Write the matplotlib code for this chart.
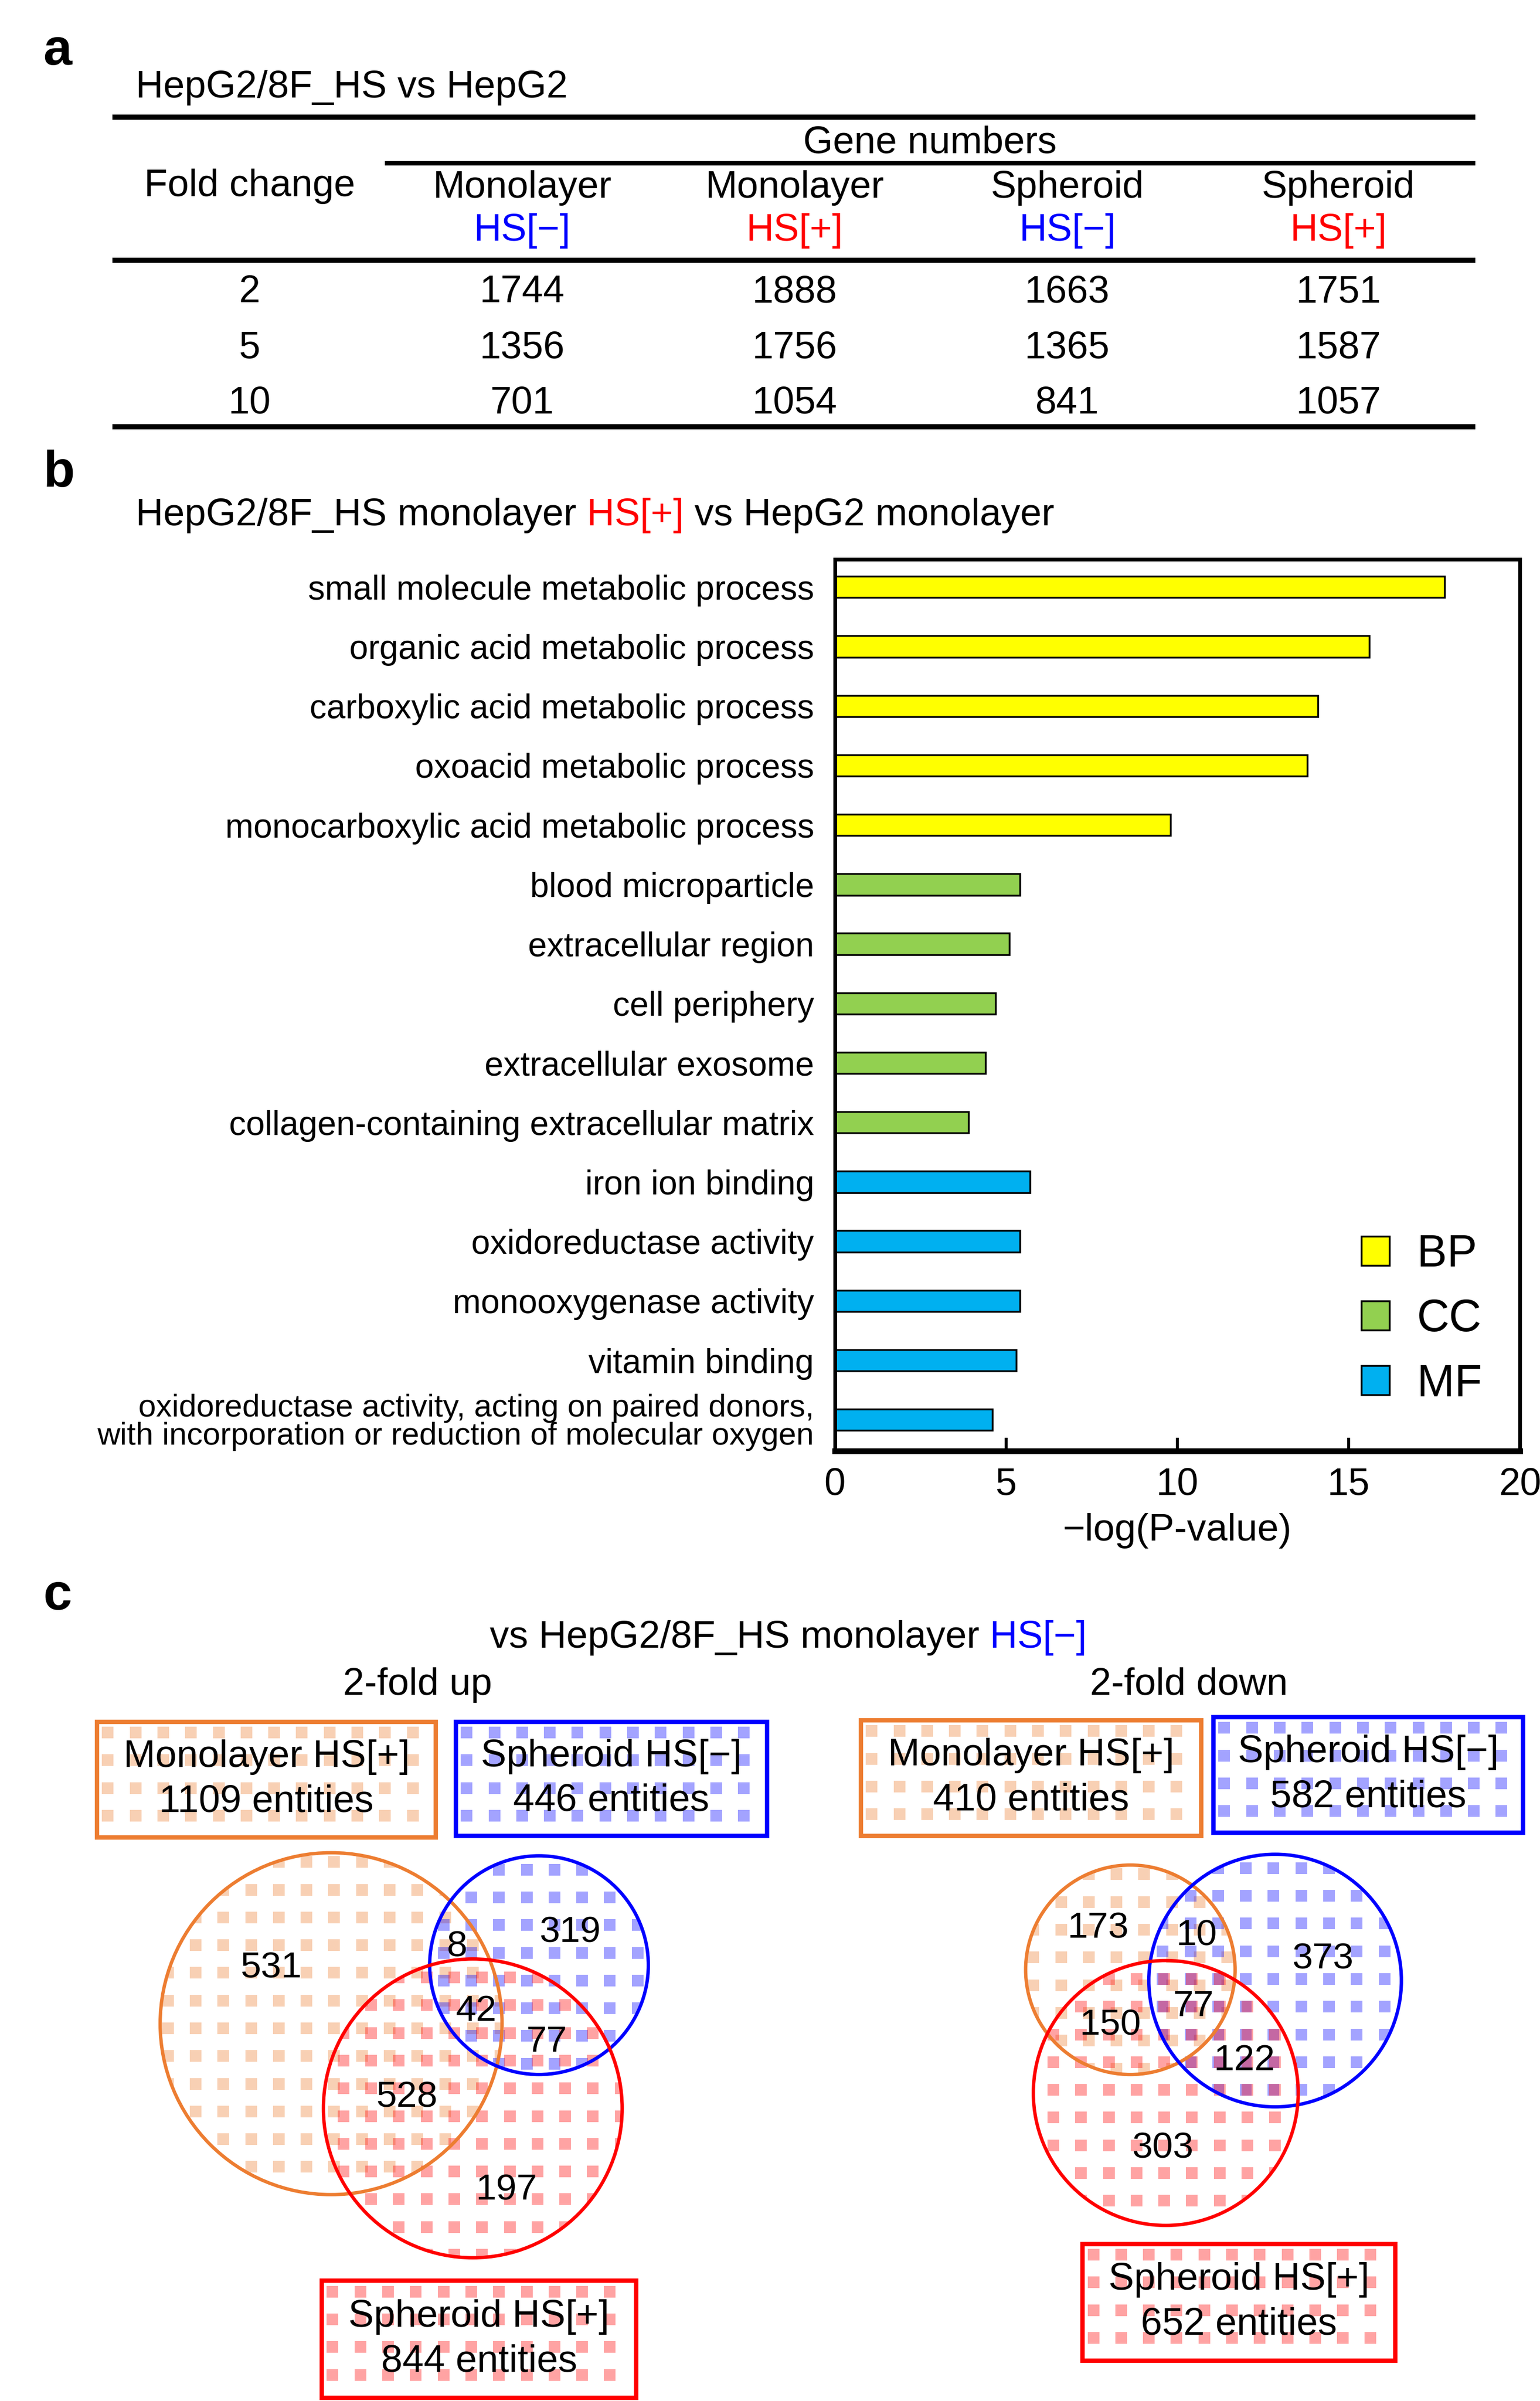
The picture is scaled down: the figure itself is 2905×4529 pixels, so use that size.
import matplotlib.pyplot as plt
import numpy as np
from matplotlib.patches import Circle, Rectangle, Patch

plt.rcParams['font.family'] = ['Liberation Sans', 'DejaVu Sans']

MINUS = '\u2212'

# ---- panel a: gene numbers table ----
fold_change = ['2', '5', '10']
col_names = ['Monolayer', 'Monolayer', 'Spheroid', 'Spheroid']
col_hs = ['HS[' + MINUS + ']', 'HS[+]', 'HS[' + MINUS + ']', 'HS[+]']
col_hs_colors = ['#0000FF', '#FF0000', '#0000FF', '#FF0000']
mono_neg = [1744, 1356, 701]
mono_pos = [1888, 1756, 1054]
sph_neg = [1663, 1365, 841]
sph_pos = [1751, 1587, 1057]

# ---- panel b: GO enrichment ----
go_terms = ['small molecule metabolic process',
            'organic acid metabolic process',
            'carboxylic acid metabolic process',
            'oxoacid metabolic process',
            'monocarboxylic acid metabolic process',
            'blood microparticle',
            'extracellular region',
            'cell periphery',
            'extracellular exosome',
            'collagen-containing extracellular matrix',
            'iron ion binding',
            'oxidoreductase activity',
            'monooxygenase activity',
            'vitamin binding',
            'oxidoreductase activity, acting on paired donors,\n'
            'with incorporation or reduction of molecular oxygen']
go_logp = [17.8, 15.6, 14.1, 13.8, 9.8,
           5.4, 5.1, 4.7, 4.4, 3.9,
           5.7, 5.4, 5.4, 5.3, 4.6]
go_cat = ['BP', 'BP', 'BP', 'BP', 'BP',
          'CC', 'CC', 'CC', 'CC', 'CC',
          'MF', 'MF', 'MF', 'MF', 'MF']
cat_names = ['BP', 'CC', 'MF']
cat_colors = {'BP': '#FFFF00', 'CC': '#92D050', 'MF': '#00B0F0'}

# ---- panel c: venn diagrams ----
set_names = ['Monolayer HS[+]', 'Spheroid HS[' + MINUS + ']', 'Spheroid HS[+]']
set_colors = ['#ED7D31', '#0000FF', '#FF0000']
# region order: A only, A&B, B only, A&B&C, B&C, A&C, C only
up_totals = [1109, 446, 844]
up_regions = [531, 8, 319, 42, 77, 528, 197]
down_totals = [410, 582, 652]
down_regions = [173, 10, 373, 77, 122, 150, 303]

W, H = 1000.0, 1559.0
fig = plt.figure(figsize=(29.05, 45.29), dpi=100)
ax0 = fig.add_axes([0, 0, 1, 1])
ax0.set_xlim(0, W)
ax0.set_ylim(H, 0)
ax0.axis('off')

FS = 52


def rainbow(x, y, parts, size=FS):
    t = ax0.text(x, y, parts[0][0], color=parts[0][1], fontsize=size,
                 va='baseline', ha='left')
    for s, c in parts[1:]:
        t = ax0.annotate(s, xy=(1, 0), xycoords=t, va='bottom', ha='left',
                         color=c, fontsize=size)


# ================= panel a =================
ax0.text(28, 42, 'a', fontsize=70, fontweight='bold', va='baseline')
ax0.text(88, 57, 'HepG2/8F_HS vs HepG2', fontsize=FS, va='center')
ax0.plot([73, 958], [76, 76], color='black', lw=7, solid_capstyle='butt')
ax0.text(604, 93, 'Gene numbers', fontsize=FS, va='center', ha='center')
ax0.plot([250, 958], [106, 106], color='black', lw=6, solid_capstyle='butt')
ax0.text(162, 121, 'Fold change', fontsize=FS, va='center', ha='center')
col_x = [339, 516, 693, 869]
for cx, nm, hs, hc in zip(col_x, col_names, col_hs, col_hs_colors):
    ax0.text(cx, 122, nm, fontsize=FS, va='center', ha='center')
    ax0.text(cx, 150, hs, fontsize=FS, va='center', ha='center', color=hc)
ax0.plot([73, 958], [169, 169], color='black', lw=7, solid_capstyle='butt')
row_y = [190, 226, 262]
for i, ry in enumerate(row_y):
    ax0.text(162, ry, fold_change[i], fontsize=FS, va='center', ha='center')
    for cx, vals in zip(col_x, [mono_neg, mono_pos, sph_neg, sph_pos]):
        ax0.text(cx, ry, str(vals[i]), fontsize=FS, va='center', ha='center')
ax0.plot([73, 958], [277, 277], color='black', lw=7, solid_capstyle='butt')

# ================= panel b =================
ax0.text(28, 316, 'b', fontsize=70, fontweight='bold', va='baseline')
rainbow(88, 341, [('HepG2/8F_HS monolayer', 'black'), (' HS[+]', '#FF0000'),
                  (' vs HepG2 monolayer', 'black')])

axb = fig.add_axes([542 / W, 1 - 942 / H, 445 / W, 579 / H])
ypos = np.arange(len(go_terms))
axb.barh(ypos, go_logp, height=0.36, color=[cat_colors[c] for c in go_cat],
         edgecolor='black', linewidth=2.5)
axb.set_ylim(14.52, -0.47)
axb.set_xlim(0, 20)
axb.set_yticks(ypos)
axb.set_yticklabels(go_terms, fontsize=46)
ylabels = axb.get_yticklabels()
ylabels[-1].set_fontsize(43)
ylabels[-1].set_linespacing(0.95)
axb.tick_params(axis='y', length=0, pad=28)
axb.set_xticks([0, 5, 10, 15, 20])
axb.tick_params(axis='x', direction='in', length=18, width=4, labelsize=52, pad=22)
for sp in ['left', 'top', 'right']:
    axb.spines[sp].set_linewidth(5)
axb.spines['bottom'].set_linewidth(8)
axb.set_xlabel(MINUS + 'log(P-value)', fontsize=52, labelpad=14)
handles = [Patch(facecolor=cat_colors[c], edgecolor='black', lw=2.5, label=c)
           for c in cat_names]
axb.legend(handles=handles, loc='upper left', bbox_to_anchor=(884 / W, 1 - 801 / H),
           bbox_transform=fig.transFigure, frameon=False, fontsize=61,
           handlelength=0.62, handleheight=0.62, handletextpad=0.62,
           labelspacing=0.5, borderpad=0, borderaxespad=0)

# ================= panel c =================
ax0.text(28, 1045, 'c', fontsize=70, fontweight='bold', va='baseline')
rainbow(318, 1070, [('vs HepG2/8F_HS monolayer', 'black'),
                    (' HS[' + MINUS + ']', '#0000FF')])
ax0.text(271, 1094, '2-fold up', fontsize=FS, va='center', ha='center')
ax0.text(772, 1094, '2-fold down', fontsize=FS, va='center', ha='center')


def dotted_fill(patch, color, x0, y0, x1, y1, off=(0.0, 0.0)):
    gx, gy = np.meshgrid(np.arange(x0 + off[0], x1, 18.0),
                         np.arange(y0 + off[1], y1, 18.0))
    sc = ax0.scatter(gx.ravel(), gy.ravel(), marker='s', s=230, color=color,
                     alpha=0.36, linewidths=0, zorder=2)
    sc.set_clip_path(patch)


def venn(circles, boxes, totals, regions, region_xy):
    # circles: (cx, cy, r); boxes: (x0, y0, x1, y1)
    for k, ((cx, cy, r), col) in enumerate(zip(circles, set_colors)):
        c = Circle((cx, cy), r, facecolor='none', edgecolor=col, lw=4.6, zorder=4)
        ax0.add_patch(c)
        dotted_fill(c, col, cx - r, cy - r, cx + r, cy + r, off=(5 + 4 * k, 6 + 3 * k))
    for (bx0, by0, bx1, by1), col, nm, tot in zip(boxes, set_colors, set_names, totals):
        rect = Rectangle((bx0, by0), bx1 - bx0, by1 - by0, facecolor='none',
                         edgecolor=col, lw=6, zorder=4)
        ax0.add_patch(rect)
        dotted_fill(rect, col, bx0, by0, bx1, by1, off=(7, 7))
        mx = (bx0 + bx1) / 2
        my = (by0 + by1) / 2
        ax0.text(mx, my - 14.5, nm, fontsize=FS, ha='center', va='center', zorder=5)
        ax0.text(mx, my + 14.5, f'{tot} entities', fontsize=FS, ha='center',
                 va='center', zorder=5)
    for val, (x, y) in zip(regions, region_xy):
        ax0.text(x, y, str(val), fontsize=50, ha='center', va='center', zorder=5)


venn([(215, 1314, 111), (350, 1276, 71), (307, 1369, 97)],
     [(63, 1118, 283, 1193), (296, 1118, 498, 1192), (209, 1481, 413, 1557)],
     up_totals, up_regions,
     [(176, 1278), (297, 1264), (370, 1255), (309, 1306), (355, 1326),
      (264, 1362), (329, 1422)])

venn([(734, 1279, 68), (828, 1286, 82), (757, 1359, 86)],
     [(559, 1117, 780, 1192), (788, 1115, 989, 1190), (703, 1457, 906, 1533)],
     down_totals, down_regions,
     [(713, 1252), (777, 1257), (859, 1272), (775, 1303), (808, 1338),
      (721, 1315), (755, 1395)])

fig.savefig('out.png', dpi=100)
